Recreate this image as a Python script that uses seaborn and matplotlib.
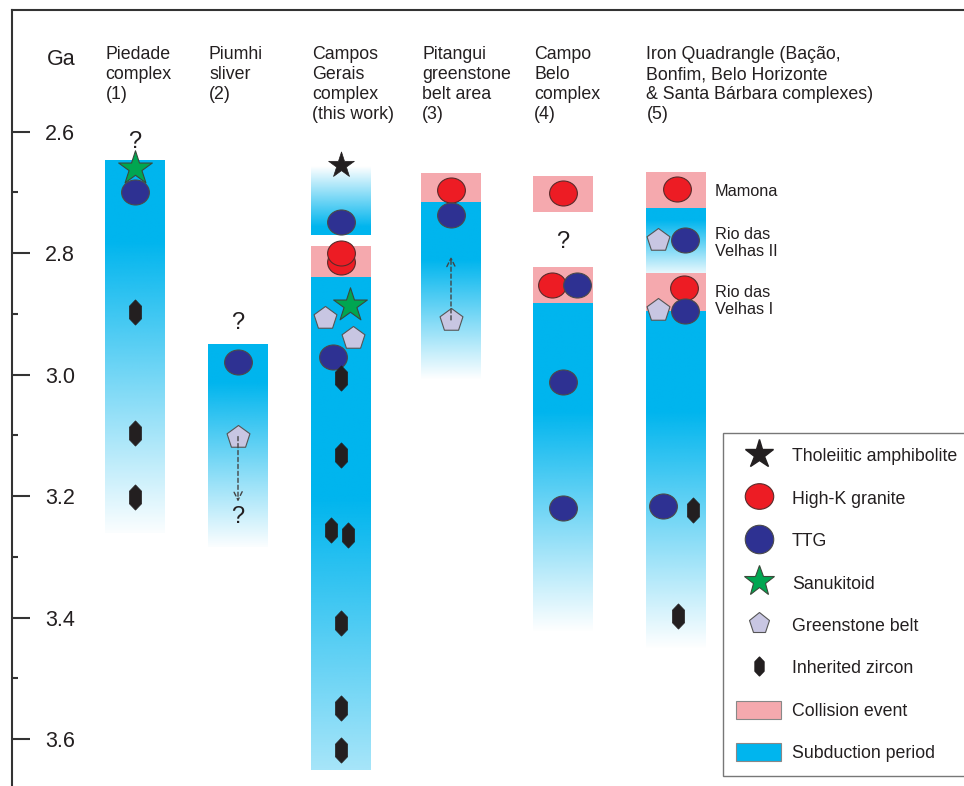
import numpy as np
import pandas as pd
import matplotlib
matplotlib.use("Agg")
import matplotlib.pyplot as plt
from matplotlib.path import Path
from matplotlib.lines import Line2D
from matplotlib.patches import Patch
import seaborn as sns

sns.set_style("white")
plt.rcParams["font.family"] = ["Liberation Sans", "DejaVu Sans"]

# ---------------------------------------------------------------- data
columns = [
    "Piedade\ncomplex\n(1)",
    "Piumhi\nsliver\n(2)",
    "Campos\nGerais\ncomplex\n(this work)",
    "Pitangui\ngreenstone\nbelt area\n(3)",
    "Campo\nBelo\ncomplex\n(4)",
    "Iron Quadrangle (Bação,\nBonfim, Belo Horizonte\n& Santa Bárbara complexes)\n(5)",
]

# tectonic segments per column (Ga): subduction periods and collision events
seg_col = [0, 1, 2, 2, 2, 3, 3, 4, 4, 4, 5, 5, 5, 5]
seg_top = [2.647, 2.949, 2.658, 2.788, 2.839, 2.668, 2.716, 2.673, 2.823,
           2.882, 2.666, 2.726, 2.833, 2.895]
seg_base = [3.260, 3.283, 2.770, 2.839, 3.650, 2.716, 3.009, 2.732, 2.882,
            3.425, 2.726, 2.833, 2.895, 3.453]
seg_kind = ["sub", "sub", "sub", "col", "sub", "col", "sub", "col", "col",
            "sub", "col", "sub", "col", "sub"]

# dated rocks
pt_col = [0, 0, 0, 0, 0,
          1, 1,
          2, 2, 2, 2, 2, 2, 2, 2, 2, 2, 2, 2, 2, 2, 2,
          3, 3, 3,
          4, 4, 4, 4, 4,
          5, 5, 5, 5, 5, 5, 5, 5, 5]
pt_age = [2.660, 2.699, 2.897, 3.096, 3.201,
          2.979, 3.102,
          2.655, 2.749, 2.815, 2.800, 2.885, 2.907, 2.940, 2.971, 3.005, 3.132,
          3.256, 3.264, 3.409, 3.549, 3.618,
          2.696, 2.737, 2.910,
          2.701, 2.852, 2.852, 3.012, 3.220,
          2.694, 2.778, 2.778, 2.857, 2.893, 2.895, 3.216, 3.223, 3.397]
pt_kind = ["san", "ttg", "zrc", "zrc", "zrc",
           "ttg", "gsb",
           "tho", "ttg", "hik", "hik", "san", "gsb", "gsb", "ttg", "zrc", "zrc",
           "zrc", "zrc", "zrc", "zrc", "zrc",
           "hik", "ttg", "gsb",
           "hik", "hik", "ttg", "ttg", "ttg",
           "hik", "gsb", "ttg", "hik", "gsb", "ttg", "ttg", "zrc", "zrc"]

# uncertain limits
q_col = [0, 1, 1, 4]
q_age = [2.617, 2.915, 3.234, 2.782]

# greenstone age trends
trend_col = [1, 3]
trend_from = [3.102, 2.910]
trend_to = [3.209, 2.806]

# Iron Quadrangle events
event_names = ["Mamona", "Rio das\nVelhas II", "Rio das\nVelhas I"]
event_age = [2.699, 2.783, 2.879]

legend_labels = ["Tholeiitic amphibolite", "High-K granite", "TTG", "Sanukitoid",
                 "Greenstone belt", "Inherited zircon", "Collision event",
                 "Subduction period"]

age_ticks = [2.6, 2.8, 3.0, 3.2, 3.4, 3.6]
age_minor = [2.7, 2.9, 3.1, 3.3, 3.5]

# ---------------------------------------------------------------- layout / style
col_x = [134.5, 238, 341, 451, 563, 675.5]
pt_dx = [0, 0, 0, 0, 0,
         0, 0,
         0, 0, 0, 0, 9, -16, 12, -8, 0, 0, -10, 7, 0, 0, 0,
         0, 0, 0,
         0, -11, 14, 0, 0,
         1.5, -17.5, 9.5, 8.5, -17.5, 9.5, -12.5, 17.5, 2.5]
BAR_W = 60
# (solid fraction, end strength, fades upward) for each subduction segment
seg_fade = [(0.22, 0.02, False), (0.19, 0.02, False), (0.12, 0.0, True), None,
            (0.45, 0.35, False), None, (0.33, 0.0, False), None, None,
            (0.33, 0.0, False), None, (0.2, 0.1, False), None, (0.3, 0.0, False)]

CYAN = "#00b5ee"
PINK = "#f5a9ae"
RED = "#ed1c24"
NAVY = "#2e3192"
GREEN = "#00a651"
LILAC = "#c8c6e2"
DARK = "#231f20"
EDGE = "#4a4a4a"

ellipse_v = Path.unit_circle().vertices * np.array([1.0, 0.9])
ELLIPSE = Path(ellipse_v, Path.unit_circle().codes)
ZIRCON = Path([(0, 1), (0.48, 0.5), (0.48, -0.5), (0, -1), (-0.48, -0.5),
               (-0.48, 0.5), (0, 1)],
              [Path.MOVETO] + [Path.LINETO] * 5 + [Path.CLOSEPOLY])

styles = {
    "hik": dict(marker=ELLIPSE, s=400, color=RED, edgecolor="#5a2a2a", linewidth=0.8, zorder=4),
    "gsb": dict(marker="p", s=300, color=LILAC, edgecolor="#555555", linewidth=0.8, zorder=4.5),
    "ttg": dict(marker=ELLIPSE, s=400, color=NAVY, edgecolor=EDGE, linewidth=0.8, zorder=5),
    "zrc": dict(marker=ZIRCON, s=330, color=DARK, edgecolor=DARK, linewidth=0.5, zorder=6),
    "san": dict(marker="*", s=650, color=GREEN, edgecolor="#3a4a3a", linewidth=0.8, zorder=7),
    "tho": dict(marker="*", s=380, color=DARK, edgecolor=DARK, linewidth=0.5, zorder=7),
}

W, H = 964, 786
fig = plt.figure(figsize=(W / 100, H / 100), dpi=100)
ax = fig.add_axes([12 / W, 0, 1 - 12 / W, 1 - 10 / H])

cyan_rgb = np.array(matplotlib.colors.to_rgb(CYAN))

# ---------------------------------------------------------------- segments
for i, (c, top, base, kind) in enumerate(zip(seg_col, seg_top, seg_base, seg_kind)):
    x0 = col_x[c] - BAR_W / 2
    if kind == "col":
        ax.bar(col_x[c], base - top, bottom=top, width=BAR_W, color=PINK,
               linewidth=0, zorder=2)
    else:
        solid, floor, rise = seg_fade[i]
        s = np.linspace(0, 1, 256)
        t = np.where(s <= solid, 1.0,
                     1.0 - (1.0 - floor) * (s - solid) / (1.0 - solid))
        if rise:
            t = t[::-1]
        rgba = np.ones((256, 1, 4))
        rgba[..., :3] = cyan_rgb
        rgba[..., 3] = t[:, None]
        ax.imshow(rgba, extent=(x0, x0 + BAR_W, base, top), origin="upper",
                  aspect="auto", interpolation="bilinear", zorder=1)

# ---------------------------------------------------------------- points
pts = pd.DataFrame({
    "x": [col_x[c] + d for c, d in zip(pt_col, pt_dx)],
    "age": pt_age,
    "kind": pt_kind,
})
for kind in ["hik", "gsb", "ttg", "zrc", "san", "tho"]:
    sub = pts[pts["kind"] == kind]
    st = dict(styles[kind])
    z = st.pop("zorder")
    sns.scatterplot(data=sub, x="x", y="age", ax=ax, legend=False, zorder=z, **st)

# dashed trend arrows
for c, a0, a1 in zip(trend_col, trend_from, trend_to):
    ax.annotate("", xy=(col_x[c], a1), xytext=(col_x[c], a0),
                arrowprops=dict(arrowstyle="->", linestyle=(0, (3, 2)), lw=1.0,
                                color="#444444", shrinkA=0, shrinkB=0,
                                mutation_scale=15),
                zorder=8)

for c, a in zip(q_col, q_age):
    ax.text(col_x[c], a, "?", ha="center", va="center", fontsize=17,
            color=DARK, zorder=8)

# ---------------------------------------------------------------- texts
for c, name in zip(range(len(columns)), columns):
    ax.text(col_x[c] - BAR_W / 2 + 1, 2.4598, name, ha="left", va="top",
            fontsize=12.8, color=DARK, linespacing=1.22)

for name, a in zip(event_names, event_age):
    ax.text(715, a, name, ha="left", va="center", fontsize=11.7, color=DARK,
            linespacing=1.18)

ax.text(75, 2.4818, "Ga", ha="right", va="center", fontsize=15.5, color=DARK)

# ---------------------------------------------------------------- axes
ax.set_xlim(12, W)
ax.set_ylim(3.677, 2.4)
ax.set_xticks([])
ax.set_yticks(age_ticks)
ax.set_yticks(age_minor, minor=True)
ax.set_yticklabels([f"{v:.1f}" for v in age_ticks])
ax.tick_params(axis="y", which="major", direction="in", length=13, width=1.5,
               color="#333333", pad=-45.5, labelsize=15.5, labelcolor=DARK,
               left=True)
ax.tick_params(axis="y", which="minor", direction="in", length=4, width=1.5,
               color="#333333", left=True)
ax.set_xlabel("")
ax.set_ylabel("")
for side in ["right", "bottom"]:
    ax.spines[side].set_visible(False)
for side in ["top", "left"]:
    ax.spines[side].set_visible(True)
    ax.spines[side].set_color("#333333")
    ax.spines[side].set_linewidth(1.5)

# ---------------------------------------------------------------- legend
handles = [
    Line2D([], [], ls="none", marker="*", ms=21.4, mfc=DARK, mec=DARK),
    Line2D([], [], ls="none", marker=ELLIPSE, ms=20.5, mfc=RED, mec="#5a2a2a", mew=0.8),
    Line2D([], [], ls="none", marker=Path.unit_circle(), ms=20.5, mfc=NAVY, mec=EDGE, mew=0.8),
    Line2D([], [], ls="none", marker="*", ms=22.5, mfc=GREEN, mec="#3a4a3a", mew=0.8),
    Line2D([], [], ls="none", marker="p", ms=15.5, mfc=LILAC, mec="#555555", mew=0.8),
    Line2D([], [], ls="none", marker=ZIRCON, ms=13.5, mfc=DARK, mec=DARK),
    Patch(facecolor=PINK, edgecolor="#888888", linewidth=0.8),
    Patch(facecolor=CYAN, edgecolor="#888888", linewidth=0.8),
]
leg = ax.legend(handles, legend_labels, loc="upper left",
                bbox_to_anchor=(723 / W, 1 - 433 / H),
                bbox_transform=fig.transFigure, fontsize=12.8, frameon=True,
                fancybox=False, edgecolor="#777777", framealpha=1,
                borderpad=0.75, labelspacing=1.31, handlelength=2.5,
                handleheight=1.2, handletextpad=0.62, borderaxespad=0)
leg.get_frame().set_linewidth(1.0)
for txt in leg.get_texts():
    txt.set_color(DARK)
leg.set_zorder(10)

fig.savefig("out.png", dpi=100)
